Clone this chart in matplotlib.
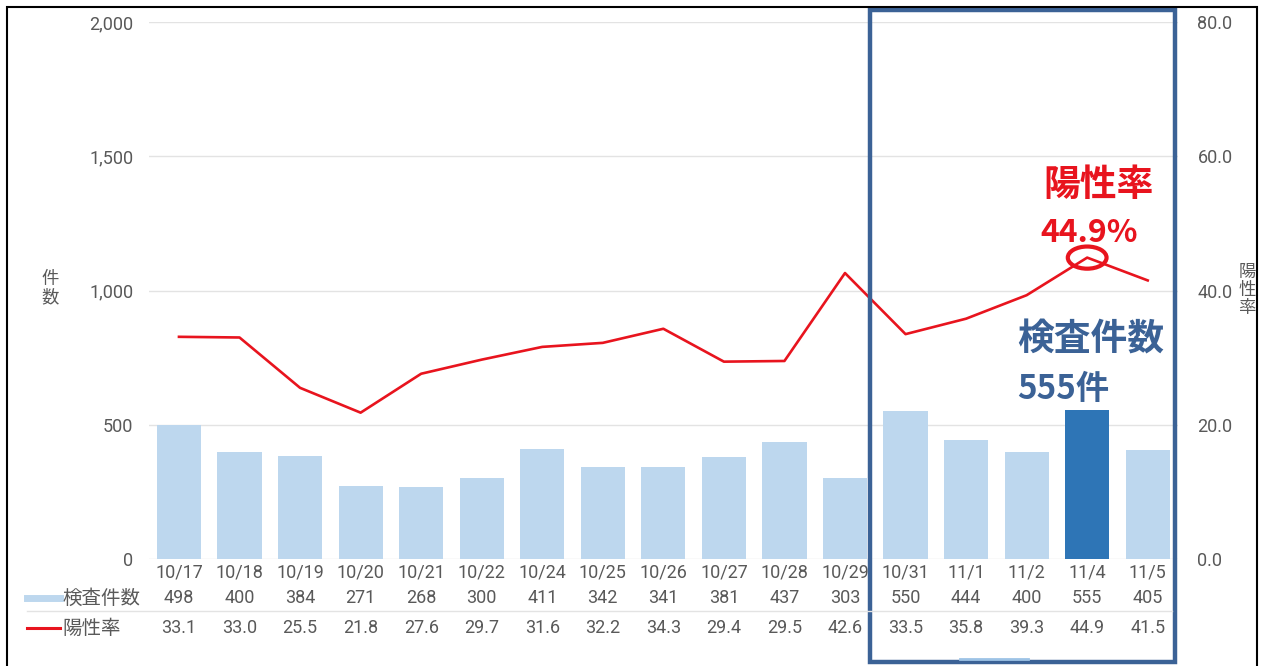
import matplotlib.pyplot as plt
from matplotlib.patches import Rectangle, Ellipse
from matplotlib.lines import Line2D

plt.rcParams['font.family'] = ['Roboto', 'Noto Sans CJK JP', 'DejaVu Sans']

# データ
dates = ['10/17', '10/18', '10/19', '10/20', '10/21', '10/22', '10/24', '10/25', '10/26',
         '10/27', '10/28', '10/29', '10/31', '11/1', '11/2', '11/4', '11/5']
counts = [498, 400, 384, 271, 268, 300, 411, 342, 341, 381, 437, 303, 550, 444, 400, 555, 405]
rates = [33.1, 33.0, 25.5, 21.8, 27.6, 29.7, 31.6, 32.2, 34.3, 29.4, 29.5, 42.6,
         33.5, 35.8, 39.3, 44.9, 41.5]
count_ticks = [0, 500, 1000, 1500, 2000]
rate_ticks = [0, 20, 40, 60, 80]
highlight = '11/4'

W, H = 1263, 666
gray = '#595959'
bar_c = '#BDD7EE'
bar_hi = '#2E75B6'
red = '#E8141E'
navy = '#3B6296'
jp = ['Noto Sans CJK JP', 'DejaVu Sans']
fs = 13

fig = plt.figure(figsize=(W / 100, H / 100), dpi=100)
fig.patch.set_facecolor('white')


def fx(px):
    return px / W


def fy(py):
    return 1 - py / H


ax = fig.add_axes([fx(148.7), fy(559), fx(1178) - fx(148.7), fy(22) - fy(559)])
x = list(range(len(dates)))
colors = [bar_hi if d == highlight else bar_c for d in dates]
ax.bar(x, counts, width=0.73, color=colors, zorder=2)
ax.set_xlim(-0.5, len(dates) - 0.5)
ax.set_ylim(0, 2000)
ax.set_yticks(count_ticks)
ax.set_yticklabels([f'{v:,}' for v in count_ticks])
ax.grid(axis='y', color='#E3E3E3', lw=1)
ax.set_axisbelow(True)
ax.set_xticks(x)
ax.set_xticklabels(dates)
ax.tick_params(axis='both', length=0, labelsize=fs, labelcolor=gray)
ax.tick_params(axis='y', pad=11)
ax.tick_params(axis='x', pad=3)
for s in ax.spines.values():
    s.set_visible(False)

ax2 = ax.twinx()
ax2.plot(x, rates, color=red, lw=1.9, zorder=3)
ax2.set_ylim(0, 80)
ax2.set_yticks(rate_ticks)
ax2.set_yticklabels([f'{v:.1f}' for v in rate_ticks])
ax2.tick_params(axis='y', length=0, labelsize=fs, labelcolor=gray, pad=14)
for s in ax2.spines.values():
    s.set_visible(False)

# 表の行
trans = ax.get_xaxis_transform()
for i in x:
    ax.text(i, (559 - 598) / 537, str(counts[i]), transform=trans, ha='center', va='center',
            fontsize=fs, color=gray)
    ax.text(i, (559 - 628) / 537, f'{rates[i]:.1f}', transform=trans, ha='center', va='center',
            fontsize=fs, color=gray)
fig.add_artist(Line2D([fx(27), fx(1172)], [fy(611), fy(611)], color='#E3E3E3', lw=1))
fig.add_artist(Line2D([fx(27), fx(60)], [fy(598), fy(598)], color=bar_c, lw=5))
fig.add_artist(Line2D([fx(27), fx(60)], [fy(628), fy(628)], color=red, lw=2.2))
fig.text(fx(62), fy(598), '検査件数', ha='left', va='center', fontsize=14, color=gray, family=jp)
fig.text(fx(62), fy(628), '陽性率', ha='left', va='center', fontsize=14, color=gray, family=jp)

# 軸ラベル
fig.text(fx(50), fy(288), '件\n数', ha='center', va='center', fontsize=12.5, color=gray,
         linespacing=1.0, family=jp)
fig.text(fx(1247), fy(290), '陽\n性\n率', ha='center', va='center', fontsize=12.5, color=gray,
         linespacing=1.0, family=jp)

# 強調
hi = dates.index(highlight)
ax2.add_patch(Ellipse((hi, rates[hi]), 0.64, 3.3, fill=False, ec=red, lw=3, zorder=4,
                      clip_on=False))
fig.text(fx(1098), fy(185), '陽性率', ha='center', va='center', fontsize=26.5, color=red,
         fontweight='bold', family=jp)
fig.text(fx(1040), fy(233), f'{rates[hi]}%', ha='left', va='center', fontsize=23, color=red,
         fontweight='bold', family=jp)
fig.text(fx(1017), fy(340), '検査件数', ha='left', va='center', fontsize=26.5, color=navy,
         fontweight='bold', family=jp)
fig.text(fx(1017), fy(390), f'{counts[hi]}件', ha='left', va='center', fontsize=24, color=navy,
         fontweight='bold', family=jp)

fig.add_artist(Rectangle((fx(870), fy(662)), fx(1175) - fx(870), fy(10) - fy(662),
                         fill=False, ec=navy, lw=3.2, transform=fig.transFigure))
fig.add_artist(Line2D([fx(960), fx(1028)], [fy(659), fy(659)], color='#9DC3E6', lw=2))
fig.add_artist(Rectangle((fx(7), fy(670)), fx(1257) - fx(7), fy(7) - fy(670),
                         fill=False, ec='black', lw=1.5, transform=fig.transFigure))

fig.savefig('out.png', dpi=100)
